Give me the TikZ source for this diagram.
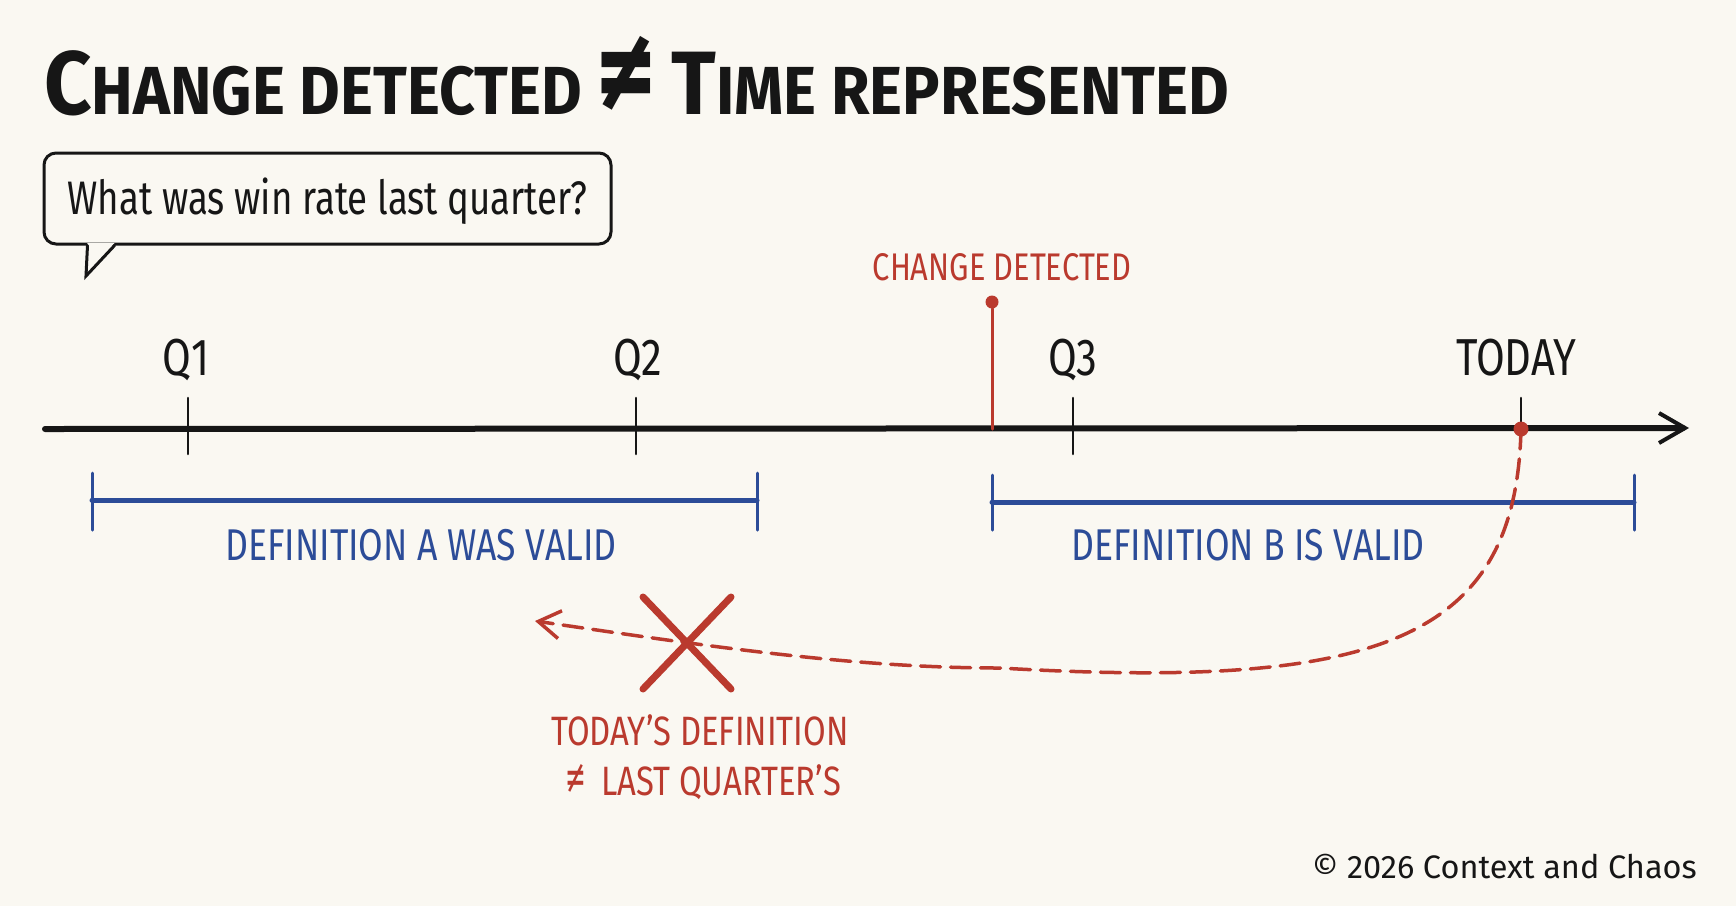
\documentclass[tikz,border=0pt]{standalone}
\usepackage{fontspec}
\setmainfont{Fira Sans}
\newfontfamily\handfont[FakeStretch=0.78]{Fira Sans}
\newfontfamily\capsfont[FakeStretch=0.8]{Fira Sans}
\newfontfamily\titlefont[FakeStretch=0.92]{Fira Sans}
\usetikzlibrary{positioning,arrows.meta}
\definecolor{paper}{HTML}{FAF8F2}
\definecolor{ink}{HTML}{161616}
\definecolor{redpen}{HTML}{BA3A2E}
\definecolor{bluepen}{HTML}{2C4C98}
\newcommand\tcap[1]{{\fontsize{90}{90}\selectfont #1}}
\newcommand\tneq{{\fontsize{125}{125}\selectfont ≠}}

\begin{document}
\begin{tikzpicture}[x=1pt, y=-1pt, line cap=round,
tick/.style={draw=ink, line width=2.6pt},
qlabel/.style={font=\capsfont\fontsize{52}{52}\selectfont, text=ink, anchor=base, inner sep=0pt},
redlabel/.style={font=\capsfont\fontsize{38.5}{38.5}\selectfont, text=redpen, anchor=base, inner sep=0pt},
bluelabel/.style={font=\capsfont\fontsize{44.5}{44.5}\selectfont, text=bluepen, anchor=base, inner sep=0pt},
span/.style={draw=bluepen, line width=5pt},
spanend/.style={draw=bluepen, line width=3pt},
reddot/.style={circle, fill=redpen, inner sep=0pt, minimum size=#1},
bubble/.style={draw=ink, line width=3pt, rounded corners=12pt, fill=paper}]
\fill[paper] (0,0) rectangle (1736,906);

\node[anchor=base west, inner sep=0pt, text=ink, font=\titlefont\bfseries\fontsize{68}{68}\selectfont] (title) at (44,114)
  {\tcap{C}HANGE DETECTED \tneq{} \tcap{T}IME REPRESENTED};

\node[bubble, minimum width=567pt, minimum height=91pt, inner sep=0pt, text height=40pt, text depth=8pt,
  font=\handfont\fontsize{47}{47}\selectfont, text=ink] (ask) at (327.5,198.5) {What was win rate last quarter?};
\coordinate (tail) at (86,276);
\fill[paper] ([xshift=45pt,yshift=2.5pt]ask.south west) -- (tail) -- ([xshift=72pt,yshift=2.5pt]ask.south west) -- cycle;
\draw[draw=ink, line width=3pt] ([xshift=45pt]ask.south west) -- (tail) -- ([xshift=72pt]ask.south west);

\coordinate (start) at (45,429);
\coordinate (end) at (1689,428);
\draw[draw=ink, line width=6pt, -{Straight Barb[length=26pt, width=30pt, line width=4pt]}] (start) -- (end);

\coordinate (q1) at (188,398);
\coordinate (q2) at (636,398);
\coordinate (q3) at (1073,398);
\coordinate (td) at (1521,398);
\draw[tick] (q1) -- (188,454);
\draw[tick] (q2) -- (636,454);
\draw[tick] (q3) -- (1073,454);
\draw[tick] (td) -- (1521,429);
\node[qlabel] (q1l) at (186,375) {Q1};
\node[qlabel] (q2l) at (638,375) {Q2};
\node[qlabel] (q3l) at (1073,375) {Q3};
\node[qlabel] (tdl) at (1516,375) {TODAY};

\node[reddot=13pt] (chg) at (992,302) {};
\coordinate (chgbase) at (992,429);
\draw[draw=redpen, line width=3pt] (chg) -- (chgbase);
\node[redlabel] (chgl) at (1002,280) {CHANGE DETECTED};

\coordinate (a0) at (92,500);
\coordinate (a1) at (757,500);
\draw[span] (a0) -- (a1);
\draw[spanend] (92,473) -- (92,530);
\draw[spanend] (757,473) -- (757,530);
\node[bluelabel] (defa) at (421,560) {DEFINITION A WAS VALID};

\coordinate (b0) at (992,502);
\coordinate (b1) at (1634,502);
\draw[span] (b0) -- (b1);
\draw[spanend] (992,475) -- (992,530);
\draw[spanend] (1634,475) -- (1634,530);
\node[bluelabel] (defb) at (1248,560) {DEFINITION B IS VALID};

\coordinate (back) at (535,621);
\draw[draw=redpen, line width=3.5pt, dash pattern=on 20pt off 10pt,
  -{Straight Barb[length=22pt, width=28pt, line width=3.5pt]}]
  (1521,429) .. controls (1516,640) and (1380,690) .. (1000,668) .. controls (850,668) and (700,645) .. (back);
\node[reddot=15pt] (now) at (1521,429) {};

\coordinate (cross) at (687,643);
\draw[draw=redpen, line width=7pt] ([xshift=-44pt,yshift=46pt]cross) -- ([xshift=44pt,yshift=-46pt]cross);
\draw[draw=redpen, line width=7pt] ([xshift=44pt,yshift=46pt]cross) -- ([xshift=-44pt,yshift=-46pt]cross);
\node[redlabel, font=\capsfont\fontsize{41}{41}\selectfont] (why1) at (700,745) {TODAY’S DEFINITION};
\node[redlabel, font=\capsfont\fontsize{41}{41}\selectfont] (why2) at (703,795) {{\fontsize{52}{52}\selectfont ≠}\, LAST QUARTER’S};

\node[anchor=base east, inner sep=0pt, text=ink, font=\fontsize{32.5}{32.5}\selectfont] (copy) at (1697,878) {© 2026 Context and Chaos};
\end{tikzpicture}
\end{document}
